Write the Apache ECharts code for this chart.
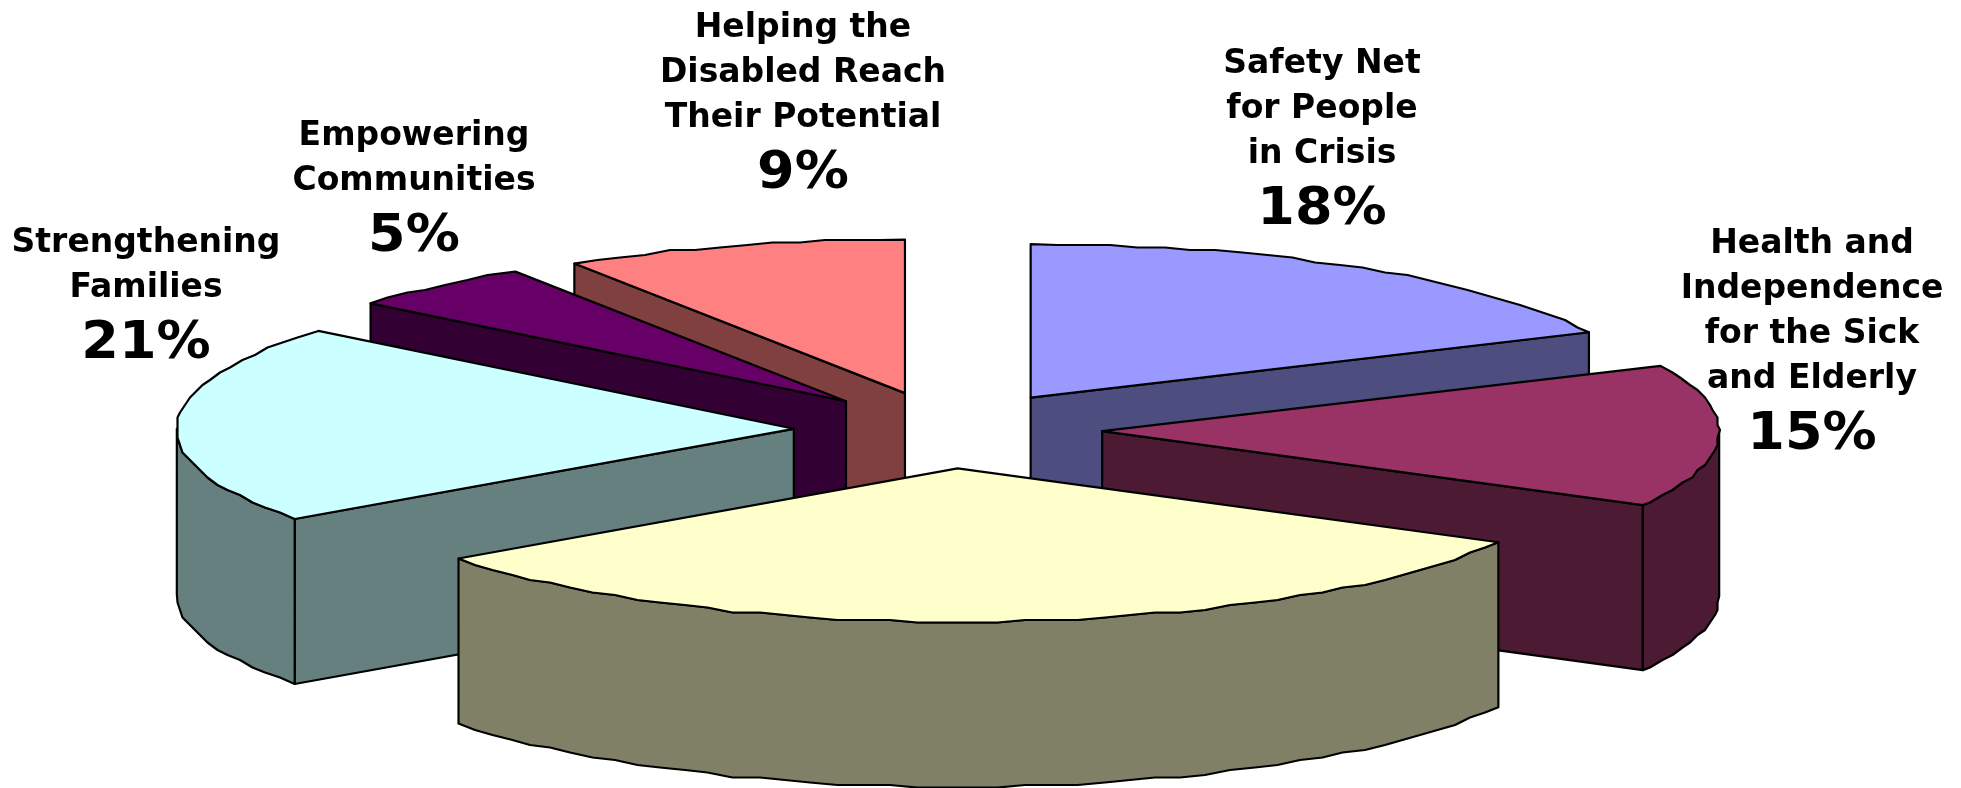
<!DOCTYPE html>
<html>
<head>
<meta charset="utf-8">
<style>
  html, body { margin: 0; padding: 0; background: #fff; }
  #main { width: 1961px; height: 788px; }
</style>
<script src="https://cdn.jsdelivr.net/npm/echarts@6/dist/echarts.min.js"></script>
</head>
<body>
<div id="main"></div>
<script>
// slices run clockwise from 12 o'clock
var sliceNames = [
  'Safety Net for People in Crisis',
  'Health and Independence for the Sick and Elderly',
  'Unlabelled',
  'Strengthening Families',
  'Empowering Communities',
  'Helping the Disabled Reach Their Potential'
];
var sliceValues = [18, 15, 32, 21, 5, 9];
var sliceLabelLines = [
  ['Safety Net', 'for People', 'in Crisis'],
  ['Health and', 'Independence', 'for the Sick', 'and Elderly'],
  null,
  ['Strengthening', 'Families'],
  ['Empowering', 'Communities'],
  ['Helping the', 'Disabled Reach', 'Their Potential']
];
var topColors = ['#9999ff', '#993366', '#ffffcc', '#ccffff', '#660066', '#ff8080'];
var sideColors = ['#4d4d80', '#4d1a33', '#808066', '#668080', '#330033', '#804040'];

// layout of the fake 3D pie
var CX = 948, CY = 430, RX = 617, RY = 153.5, DEPTH = 165, EXPLODE = 0.25;
var paintOrder = [0, 5, 4, 3, 1, 2];
var labelAnchors = [[1322, 64], [1812, 244], null, [146, 243], [414, 136], [803, 28]];
var LINE_GAP = 45, PCT_GAP = 57;
// the source picture has slightly stepped arcs, snapped to a coarse grid
var SNAP = 2.5, ARC_STEP = 2.5;

var total = sliceValues.reduce(function (a, b) { return a + b; }, 0);
var startFrac = [];
sliceValues.reduce(function (acc, v, i) { startFrac[i] = acc; return acc + v; }, 0);

function rimPoint(cx, cy, deg) {
  var r = deg * Math.PI / 180;
  return [cx + RX * Math.sin(r), cy - RY * Math.cos(r)];
}
function snapped(p) {
  return [Math.round(p[0] / SNAP) * SNAP, Math.round(p[1] / SNAP) * SNAP];
}
// arc between two angles: exact ends, stepped in between
function arcPoints(cx, cy, a, b) {
  var pts = [rimPoint(cx, cy, a)];
  for (var d = a + ARC_STEP; d < b - ARC_STEP / 2; d += ARC_STEP) {
    pts.push(snapped(rimPoint(cx, cy, d)));
  }
  pts.push(rimPoint(cx, cy, b));
  return pts;
}
function down(p) { return [p[0], p[1] + DEPTH]; }

function renderSlice(params, api) {
  var i = api.value(0);
  var a0 = startFrac[i] / total * 360;
  var a1 = a0 + api.value(1) / total * 360;
  var mid = (a0 + a1) / 2 * Math.PI / 180;
  var cx = CX + EXPLODE * RX * Math.sin(mid);
  var cy = CY - EXPLODE * RY * Math.cos(mid);
  var apex = [cx, cy];
  var line = { stroke: '#000', lineWidth: 2.2, lineJoin: 'round' };
  var kids = [];
  function face(points, fill) {
    kids.push({ type: 'polygon', shape: { points: points }, style: Object.assign({ fill: fill }, line) });
  }

  // the cut faces that turn toward the viewer
  var pStart = rimPoint(cx, cy, a0), pEnd = rimPoint(cx, cy, a1);
  if (Math.cos((a0 - 90) * Math.PI / 180) < 0) {
    face([apex, pStart, down(pStart), down(apex)], sideColors[i]);
  }
  if (Math.cos((a1 + 90) * Math.PI / 180) < 0) {
    face([apex, pEnd, down(pEnd), down(apex)], sideColors[i]);
  }

  // outer wall, front half of the ellipse only
  var w0 = Math.max(a0, 90), w1 = Math.min(a1, 270);
  if (w1 > w0) {
    var upper = arcPoints(cx, cy, w0, w1);
    face(upper.concat(upper.map(down).reverse()), sideColors[i]);
  }

  // top face
  face([apex].concat(arcPoints(cx, cy, a0, a1)), topColors[i]);

  return { type: 'group', children: kids };
}

function renderLabel(params, api) {
  var i = api.value(0);
  var at = labelAnchors[i], lines = sliceLabelLines[i];
  var font = '"DejaVu Sans", sans-serif';
  var kids = lines.map(function (s, n) {
    return {
      type: 'text', x: at[0], y: at[1] + n * LINE_GAP,
      style: { text: s, fill: '#000', fontFamily: font, fontWeight: 'bold', fontSize: 33, align: 'center', verticalAlign: 'middle' }
    };
  });
  kids.push({
    type: 'text', x: at[0], y: at[1] + (lines.length - 1) * LINE_GAP + PCT_GAP, scaleX: 1.06,
    style: { text: api.value(1) + '%', fill: '#000', fontFamily: font, fontWeight: 'bold', fontSize: 51, align: 'center', verticalAlign: 'middle' }
  });
  return { type: 'group', children: kids };
}

var chart = echarts.init(document.getElementById('main'));
chart.setOption({
  backgroundColor: '#fff',
  animation: false,
  series: [
    {
      type: 'custom',
      coordinateSystem: 'none',
      silent: true,
      renderItem: renderSlice,
      data: paintOrder.map(function (i) { return { name: sliceNames[i], value: [i, sliceValues[i]] }; })
    },
    {
      type: 'custom',
      coordinateSystem: 'none',
      silent: true,
      z: 5,
      renderItem: renderLabel,
      data: sliceValues.map(function (v, i) { return { name: sliceNames[i], value: [i, v] }; })
        .filter(function (d) { return sliceLabelLines[d.value[0]]; })
    }
  ]
});
</script>
</body>
</html>
